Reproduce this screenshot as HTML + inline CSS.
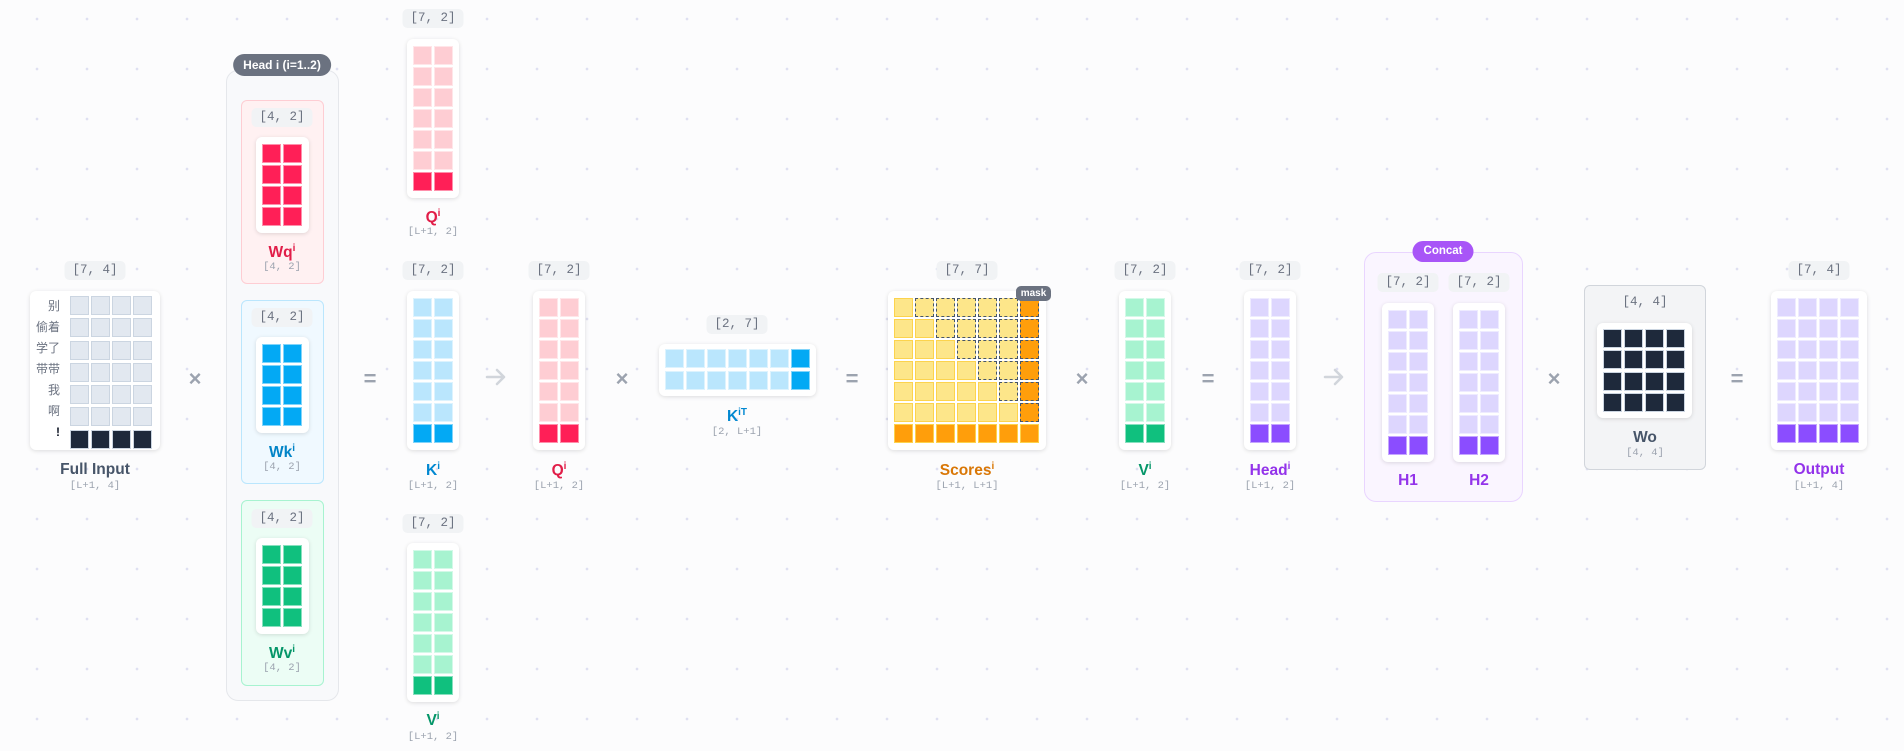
<!DOCTYPE html>
<html><head><meta charset="utf-8"><style>
*{box-sizing:border-box;margin:0;padding:0}
body{width:1904px;height:751px;overflow:hidden;position:relative;background-color:#fcfcfd;background-image:radial-gradient(circle,#dfe0f2 1.1px,transparent 1.6px);background-size:50px 50px;background-position:12px -6px;font-family:"Liberation Sans","Noto Sans CJK SC",sans-serif}
.a{position:absolute}
.c{position:absolute;transform:translateX(-50%);white-space:nowrap;text-align:center}
.card{position:absolute;background:#fff;border-radius:6px;box-shadow:0 1px 4px rgba(0,0,0,.13);padding:7px 6px;display:grid;gap:2px}
.c2{grid-template-columns:repeat(2,19px)}
.c4{grid-template-columns:repeat(4,19px)}
.c7{grid-template-columns:repeat(7,19px)}
.card i{display:block;width:19px;height:19px;border:1px solid rgba(255,255,255,.5)}
.sh{height:19px;line-height:19px;padding:0 8px;background:#f1f3f5;border-radius:5px;font-family:"Liberation Mono",monospace;font-size:12.5px;color:#6b7280}
.t{font-weight:bold;font-size:15.5px}
.t sup{font-size:10px;vertical-align:6px}
.s{font-family:"Liberation Mono",monospace;font-size:10.5px;color:#9ca3af}
.op{font-size:22px;font-weight:bold;color:#9ca3af;transform:translate(-50%,-50%)}
.ar{position:absolute}
.g{background:#e2e8f0;border-color:#cbd5e1!important}
.gd{background:#1e293b;border-color:#cbd5e1!important}
.pl{background:#fecdd3}.pd{background:#ff1f57}
.bl{background:#bae6fd}.bd{background:#03a9f4}
.el{background:#a7f3d0}.ed{background:#10c07e}
.ul{background:#ddd6fe}.ud{background:#8b4dff}
.k{background:#1e293b;border-color:#cbd5e1!important}
.y{background:#fde68a;border-color:#fcd34d!important}
.yd{background:#fde68a;border:1px dashed #475569!important}
.o{background:#ff9e0b;border-color:#fcd34d!important}
.od{background:#ff9e0b;border:1px dashed #475569!important}
.box{position:absolute;border-radius:6px;border:1px solid}
</style></head><body>

<div class="c sh" style="left:95px;top:261px">[7, 4]</div>
<div class="card" style="left:30px;top:291px;width:130px;height:159px;padding:5px 0 0 40px;grid-template-columns:repeat(4,19px)">
<i class="g"></i><i class="g"></i><i class="g"></i><i class="g"></i><i class="g"></i><i class="g"></i><i class="g"></i><i class="g"></i><i class="g"></i><i class="g"></i><i class="g"></i><i class="g"></i><i class="g"></i><i class="g"></i><i class="g"></i><i class="g"></i><i class="g"></i><i class="g"></i><i class="g"></i><i class="g"></i><i class="g"></i><i class="g"></i><i class="g"></i><i class="g"></i><i class="gd"></i><i class="gd"></i><i class="gd"></i><i class="gd"></i>
</div>
<div class="a" style="left:30px;top:296px;width:30px;text-align:right;font-size:12px;color:#6b7280;line-height:21px;font-family:'Liberation Sans','Noto Sans CJK SC',sans-serif">别<br>偷着<br>学了<br>带带<br>我<br>啊<br><b style="color:#111827">!</b></div>
<div class="c t" style="left:95px;top:461px;color:#475569">Full Input</div>
<div class="c s" style="left:95px;top:480px">[L+1, 4]</div>

<div class="c op" style="left:195px;top:379px">×</div>

<div class="box" style="left:226px;top:70px;width:113px;height:631px;background:#f8f9fb;border-color:#e5e7eb;border-radius:12px"></div>
<div class="c" style="left:282px;top:54px;height:22px;line-height:22px;padding:0 10px;background:#6b7280;color:#fff;font-size:12px;font-weight:bold;border-radius:11px">Head i (i=1..2)</div>

<div class="box" style="left:241px;top:100px;width:83px;height:184px;background:#fff1f2;border-color:#fecdd3"></div>
<div class="c sh" style="left:282px;top:108px">[4, 2]</div>
<div class="card c2" style="left:256px;top:137px;width:53px;height:96px">
<i class="pd"></i><i class="pd"></i><i class="pd"></i><i class="pd"></i><i class="pd"></i><i class="pd"></i><i class="pd"></i><i class="pd"></i></div>
<div class="c t" style="left:282px;top:243px;color:#e11d48">Wq<sup>i</sup></div>
<div class="c s" style="left:282px;top:261px">[4, 2]</div>

<div class="box" style="left:241px;top:300px;width:83px;height:184px;background:#f0f9ff;border-color:#bae6fd"></div>
<div class="c sh" style="left:282px;top:308px">[4, 2]</div>
<div class="card c2" style="left:256px;top:337px;width:53px;height:96px">
<i class="bd"></i><i class="bd"></i><i class="bd"></i><i class="bd"></i><i class="bd"></i><i class="bd"></i><i class="bd"></i><i class="bd"></i></div>
<div class="c t" style="left:282px;top:443px;color:#0284c7">Wk<sup>i</sup></div>
<div class="c s" style="left:282px;top:461px">[4, 2]</div>

<div class="box" style="left:241px;top:500px;width:83px;height:186px;background:#ecfdf5;border-color:#a7f3d0"></div>
<div class="c sh" style="left:282px;top:509px">[4, 2]</div>
<div class="card c2" style="left:256px;top:538px;width:53px;height:96px">
<i class="ed"></i><i class="ed"></i><i class="ed"></i><i class="ed"></i><i class="ed"></i><i class="ed"></i><i class="ed"></i><i class="ed"></i></div>
<div class="c t" style="left:282px;top:644px;color:#059669">Wv<sup>i</sup></div>
<div class="c s" style="left:282px;top:662px">[4, 2]</div>

<div class="c op" style="left:370px;top:379px">=</div>

<div class="c sh" style="left:433px;top:9px">[7, 2]</div>
<div class="card c2" style="left:407px;top:39px;width:52px;height:159px">
<i class="pl"></i><i class="pl"></i><i class="pl"></i><i class="pl"></i><i class="pl"></i><i class="pl"></i><i class="pl"></i><i class="pl"></i><i class="pl"></i><i class="pl"></i><i class="pl"></i><i class="pl"></i><i class="pd"></i><i class="pd"></i></div>
<div class="c t" style="left:433px;top:208px;color:#e11d48">Q<sup>i</sup></div>
<div class="c s" style="left:433px;top:226px">[L+1, 2]</div>

<div class="c sh" style="left:433px;top:261px">[7, 2]</div>
<div class="card c2" style="left:407px;top:291px;width:52px;height:159px">
<i class="bl"></i><i class="bl"></i><i class="bl"></i><i class="bl"></i><i class="bl"></i><i class="bl"></i><i class="bl"></i><i class="bl"></i><i class="bl"></i><i class="bl"></i><i class="bl"></i><i class="bl"></i><i class="bd"></i><i class="bd"></i></div>
<div class="c t" style="left:433px;top:461px;color:#0288d1">K<sup>i</sup></div>
<div class="c s" style="left:433px;top:480px">[L+1, 2]</div>

<div class="c sh" style="left:433px;top:514px">[7, 2]</div>
<div class="card c2" style="left:407px;top:543px;width:52px;height:159px">
<i class="el"></i><i class="el"></i><i class="el"></i><i class="el"></i><i class="el"></i><i class="el"></i><i class="el"></i><i class="el"></i><i class="el"></i><i class="el"></i><i class="el"></i><i class="el"></i><i class="ed"></i><i class="ed"></i></div>
<div class="c t" style="left:433px;top:711px;color:#059669">V<sup>i</sup></div>
<div class="c s" style="left:433px;top:731px">[L+1, 2]</div>

<svg class="ar" style="left:485px;top:366px" width="22" height="22" viewBox="0 0 22 22"><path d="M2 11H19M12 4L19 11L12 18" fill="none" stroke="#d1d5db" stroke-width="2.5" stroke-linecap="round" stroke-linejoin="round"/></svg>

<div class="c sh" style="left:559px;top:261px">[7, 2]</div>
<div class="card c2" style="left:533px;top:291px;width:52px;height:159px">
<i class="pl"></i><i class="pl"></i><i class="pl"></i><i class="pl"></i><i class="pl"></i><i class="pl"></i><i class="pl"></i><i class="pl"></i><i class="pl"></i><i class="pl"></i><i class="pl"></i><i class="pl"></i><i class="pd"></i><i class="pd"></i></div>
<div class="c t" style="left:559px;top:461px;color:#e11d48">Q<sup>i</sup></div>
<div class="c s" style="left:559px;top:480px">[L+1, 2]</div>

<div class="c op" style="left:622px;top:379px">×</div>

<div class="c sh" style="left:737px;top:315px">[2, 7]</div>
<div class="card c7" style="left:659px;top:344px;width:157px;height:52px;padding:5px 6px">
<i class="bl"></i><i class="bl"></i><i class="bl"></i><i class="bl"></i><i class="bl"></i><i class="bl"></i><i class="bd"></i><i class="bl"></i><i class="bl"></i><i class="bl"></i><i class="bl"></i><i class="bl"></i><i class="bl"></i><i class="bd"></i></div>
<div class="c t" style="left:737px;top:407px;color:#0288d1">K<sup>iT</sup></div>
<div class="c s" style="left:737px;top:426px">[2, L+1]</div>

<div class="c op" style="left:852px;top:379px">=</div>

<div class="c sh" style="left:967px;top:261px">[7, 7]</div>
<div class="card c7" style="left:888px;top:291px;width:158px;height:159px">
<i class="y"></i><i class="yd"></i><i class="yd"></i><i class="yd"></i><i class="yd"></i><i class="yd"></i><i class="od"></i>
<i class="y"></i><i class="y"></i><i class="yd"></i><i class="yd"></i><i class="yd"></i><i class="yd"></i><i class="od"></i>
<i class="y"></i><i class="y"></i><i class="y"></i><i class="yd"></i><i class="yd"></i><i class="yd"></i><i class="od"></i>
<i class="y"></i><i class="y"></i><i class="y"></i><i class="y"></i><i class="yd"></i><i class="yd"></i><i class="od"></i>
<i class="y"></i><i class="y"></i><i class="y"></i><i class="y"></i><i class="y"></i><i class="yd"></i><i class="od"></i>
<i class="y"></i><i class="y"></i><i class="y"></i><i class="y"></i><i class="y"></i><i class="y"></i><i class="od"></i>
<i class="o"></i><i class="o"></i><i class="o"></i><i class="o"></i><i class="o"></i><i class="o"></i><i class="o"></i></div>
<div class="a" style="left:1016px;top:286px;width:35px;height:15px;line-height:15px;background:#6b7280;color:#fff;font-size:10px;font-weight:bold;border-radius:5px;text-align:center">mask</div>
<div class="c t" style="left:967px;top:461px;color:#d97706">Scores<sup>i</sup></div>
<div class="c s" style="left:967px;top:480px">[L+1, L+1]</div>

<div class="c op" style="left:1082px;top:379px">×</div>

<div class="c sh" style="left:1145px;top:261px">[7, 2]</div>
<div class="card c2" style="left:1119px;top:291px;width:52px;height:159px">
<i class="el"></i><i class="el"></i><i class="el"></i><i class="el"></i><i class="el"></i><i class="el"></i><i class="el"></i><i class="el"></i><i class="el"></i><i class="el"></i><i class="el"></i><i class="el"></i><i class="ed"></i><i class="ed"></i></div>
<div class="c t" style="left:1145px;top:461px;color:#059669">V<sup>i</sup></div>
<div class="c s" style="left:1145px;top:480px">[L+1, 2]</div>

<div class="c op" style="left:1208px;top:379px">=</div>

<div class="c sh" style="left:1270px;top:261px">[7, 2]</div>
<div class="card c2" style="left:1244px;top:291px;width:52px;height:159px">
<i class="ul"></i><i class="ul"></i><i class="ul"></i><i class="ul"></i><i class="ul"></i><i class="ul"></i><i class="ul"></i><i class="ul"></i><i class="ul"></i><i class="ul"></i><i class="ul"></i><i class="ul"></i><i class="ud"></i><i class="ud"></i></div>
<div class="c t" style="left:1270px;top:461px;color:#9333ea">Head<sup>i</sup></div>
<div class="c s" style="left:1270px;top:480px">[L+1, 2]</div>

<svg class="ar" style="left:1323px;top:366px" width="22" height="22" viewBox="0 0 22 22"><path d="M2 11H19M12 4L19 11L12 18" fill="none" stroke="#d1d5db" stroke-width="2.5" stroke-linecap="round" stroke-linejoin="round"/></svg>

<div class="box" style="left:1364px;top:252px;width:159px;height:250px;background:#faf5ff;border-color:#e9d5ff;border-radius:12px"></div>
<div class="c" style="left:1443px;top:241px;height:21px;line-height:21px;padding:0 11px;background:#a855f7;color:#fff;font-size:11.5px;font-weight:bold;border-radius:11px">Concat</div>
<div class="c sh" style="left:1408px;top:273px">[7, 2]</div>
<div class="card c2" style="left:1382px;top:303px;width:52px;height:159px">
<i class="ul"></i><i class="ul"></i><i class="ul"></i><i class="ul"></i><i class="ul"></i><i class="ul"></i><i class="ul"></i><i class="ul"></i><i class="ul"></i><i class="ul"></i><i class="ul"></i><i class="ul"></i><i class="ud"></i><i class="ud"></i></div>
<div class="c t" style="left:1408px;top:472px;color:#9333ea">H1</div>
<div class="c sh" style="left:1479px;top:273px">[7, 2]</div>
<div class="card c2" style="left:1453px;top:303px;width:52px;height:159px">
<i class="ul"></i><i class="ul"></i><i class="ul"></i><i class="ul"></i><i class="ul"></i><i class="ul"></i><i class="ul"></i><i class="ul"></i><i class="ul"></i><i class="ul"></i><i class="ul"></i><i class="ul"></i><i class="ud"></i><i class="ud"></i></div>
<div class="c t" style="left:1479px;top:472px;color:#9333ea">H2</div>

<div class="c op" style="left:1554px;top:379px">×</div>

<div class="box" style="left:1584px;top:285px;width:122px;height:185px;background:#f3f4f6;border-color:#d1d5db"></div>
<div class="c" style="left:1645px;top:295px;font-family:'Liberation Mono',monospace;font-size:12.5px;color:#6b7280">[4, 4]</div>
<div class="card c4" style="left:1597px;top:323px;width:95px;height:95px;padding:6px">
<i class="k"></i><i class="k"></i><i class="k"></i><i class="k"></i><i class="k"></i><i class="k"></i><i class="k"></i><i class="k"></i><i class="k"></i><i class="k"></i><i class="k"></i><i class="k"></i><i class="k"></i><i class="k"></i><i class="k"></i><i class="k"></i></div>
<div class="c t" style="left:1645px;top:429px;color:#475569">Wo</div>
<div class="c s" style="left:1645px;top:447px">[4, 4]</div>

<div class="c op" style="left:1737px;top:379px">=</div>

<div class="c sh" style="left:1819px;top:261px">[7, 4]</div>
<div class="card c4" style="left:1771px;top:291px;width:96px;height:159px">
<i class="ul"></i><i class="ul"></i><i class="ul"></i><i class="ul"></i><i class="ul"></i><i class="ul"></i><i class="ul"></i><i class="ul"></i><i class="ul"></i><i class="ul"></i><i class="ul"></i><i class="ul"></i><i class="ul"></i><i class="ul"></i><i class="ul"></i><i class="ul"></i><i class="ul"></i><i class="ul"></i><i class="ul"></i><i class="ul"></i><i class="ul"></i><i class="ul"></i><i class="ul"></i><i class="ul"></i><i class="ud"></i><i class="ud"></i><i class="ud"></i><i class="ud"></i></div>
<div class="c t" style="left:1819px;top:461px;color:#9333ea">Output</div>
<div class="c s" style="left:1819px;top:480px">[L+1, 4]</div>

</body></html>
